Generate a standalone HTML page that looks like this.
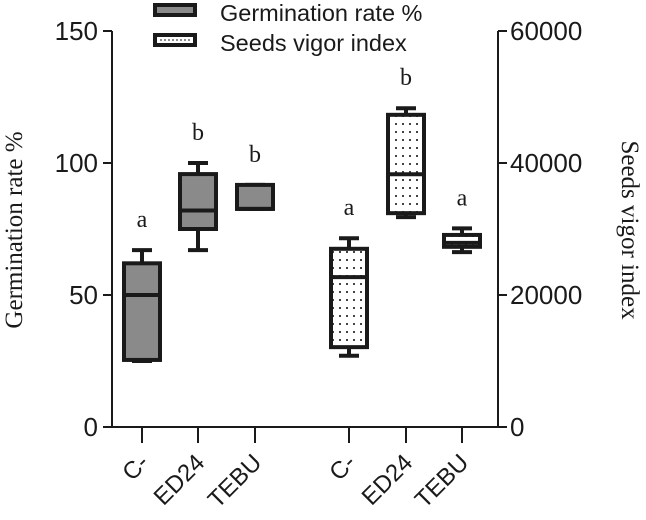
<!DOCTYPE html>
<html><head><meta charset="utf-8"><style>
body{margin:0;background:#fff}
svg{display:block}
</style></head><body>
<svg id="chart" width="646" height="520" xmlns="http://www.w3.org/2000/svg">
<defs>
<pattern id="dots" width="7" height="8" patternUnits="userSpaceOnUse">
<rect width="7" height="8" fill="#fff"/><rect x="3" y="3" width="2" height="2" fill="#444"/>
</pattern>
</defs>
<g id="axes"></g>
<g id="marks"></g>
<g>
<rect x="155" y="5" width="40" height="10" fill="#8a8a8a" stroke="#1a1a1a" stroke-width="4"/>
<text x="220" y="21" font-family="Liberation Sans, sans-serif" font-size="23.5" fill="#1a1a1a">Germination rate %</text>
<rect x="155" y="35" width="40" height="10" fill="#fff" stroke="#1a1a1a" stroke-width="4"/>
<line x1="160" y1="40" x2="190" y2="40" stroke="#666" stroke-width="1.5" stroke-dasharray="2 2"/>
<text x="220" y="51" font-family="Liberation Sans, sans-serif" font-size="23.5" fill="#1a1a1a">Seeds vigor index</text>
</g>
<text transform="translate(22,230) rotate(-90)" text-anchor="middle" font-family="Liberation Serif, serif" font-size="25" fill="#1a1a1a">Germination rate %</text>
<text transform="translate(622,230) rotate(90)" text-anchor="middle" font-family="Liberation Serif, serif" font-size="25" fill="#1a1a1a">Seeds vigor index</text>
</svg>
<script>
const categories = ["C-","ED24","TEBU"];
const germMin = [25, 67, 82.6];
const germQ1 = [25.4, 75, 82.6];
const germMed = [50, 82, 82.6];
const germQ3 = [62, 95.8, 91.7];
const germMax = [67, 100, 91.7];
const germLetters = ["a","b","b"];
const vigMin = [10800, 31800, 26500];
const vigQ1 = [12100, 32400, 27300];
const vigMed = [22700, 38300, 27900];
const vigQ3 = [27000, 47300, 29100];
const vigMax = [28600, 48300, 30100];
const vigLetters = ["a","b","a"];
const leftTicks = [0,50,100,150];
const rightTicks = [0,20000,40000,60000];

const NS="http://www.w3.org/2000/svg";
const y0=427, y1=31;
const yL=v=>y0-(v/150)*(y0-y1);
const yR=v=>y0-(v/60000)*(y0-y1);
const xCenters=[142,198,255,349,406,462];
const bw=36;
function el(tag,attrs,parent){const e=document.createElementNS(NS,tag);for(const k in attrs)e.setAttribute(k,attrs[k]);parent.appendChild(e);return e;}
const axes=document.getElementById('axes'), marks=document.getElementById('marks');
const dark="#1a1a1a";
let a=el('line',{x1:112,y1:y1,x2:112,y2:y0+1,stroke:dark,'stroke-width':2},axes);

a=el('line',{x1:498,y1:y1,x2:498,y2:y0+1,stroke:dark,'stroke-width':2},axes);

a=el('line',{x1:103,y1:y0,x2:506,y2:y0,stroke:dark,'stroke-width':2},axes);

leftTicks.forEach(t=>{
 const y=yL(t);
 el('line',{x1:103,y1:y,x2:112,y2:y,stroke:dark,'stroke-width':2},axes);
 const tx=el('text',{x:98,y:y+9,'text-anchor':'end','font-family':'Liberation Sans, sans-serif','font-size':26,fill:dark},axes);
 tx.textContent=t;
 
 
});
rightTicks.forEach(t=>{
 const y=yR(t);
 el('line',{x1:498,y1:y,x2:507,y2:y,stroke:dark,'stroke-width':2},axes);
 const tx=el('text',{x:510,y:y+9,'font-family':'Liberation Sans, sans-serif','font-size':26,fill:dark},axes);
 tx.textContent=t;
 
 
});
xCenters.forEach((x,i)=>{
 el('line',{x1:x,y1:y0,x2:x,y2:443,stroke:dark,'stroke-width':2},axes);
 const tx=el('text',{transform:`translate(${x+8},${464}) rotate(-45)`,'text-anchor':'end','font-family':'Liberation Sans, sans-serif','font-size':24,fill:dark},axes);
 tx.textContent=categories[i%3];
 
 
});
function box(xc,mn,q1,md,q3,mx,fill,name,letter){
 const g=el('g',{},marks);
 
 
 el('line',{x1:xc,y1:mx,x2:xc,y2:q3,stroke:dark,'stroke-width':4},g);
 el('line',{x1:xc,y1:q1,x2:xc,y2:mn,stroke:dark,'stroke-width':4},g);
 el('line',{x1:xc-10,y1:mx,x2:xc+10,y2:mx,stroke:dark,'stroke-width':4},g);
 el('line',{x1:xc-10,y1:mn,x2:xc+10,y2:mn,stroke:dark,'stroke-width':4},g);
 el('rect',{x:xc-bw/2,y:q3,width:bw,height:Math.max(q1-q3,1),fill:fill,stroke:dark,'stroke-width':4},g);
 el('line',{x1:xc-bw/2,y1:md,x2:xc+bw/2,y2:md,stroke:dark,'stroke-width':4},g);
 const t=el('text',{x:xc,y:mx-23,'text-anchor':'middle','font-family':'Liberation Serif, serif','font-size':24,fill:dark},g);
 t.textContent=letter;
 
 
}
for(let i=0;i<3;i++){
 box(xCenters[i],yL(germMin[i]),yL(germQ1[i]),yL(germMed[i]),yL(germQ3[i]),yL(germMax[i]),'#8a8a8a','germination-box-'+categories[i],germLetters[i]);
 box(xCenters[i+3],yR(vigMin[i]),yR(vigQ1[i]),yR(vigMed[i]),yR(vigQ3[i]),yR(vigMax[i]),'url(#dots)','vigor-box-'+categories[i],vigLetters[i]);
}
</script>
</body></html>
